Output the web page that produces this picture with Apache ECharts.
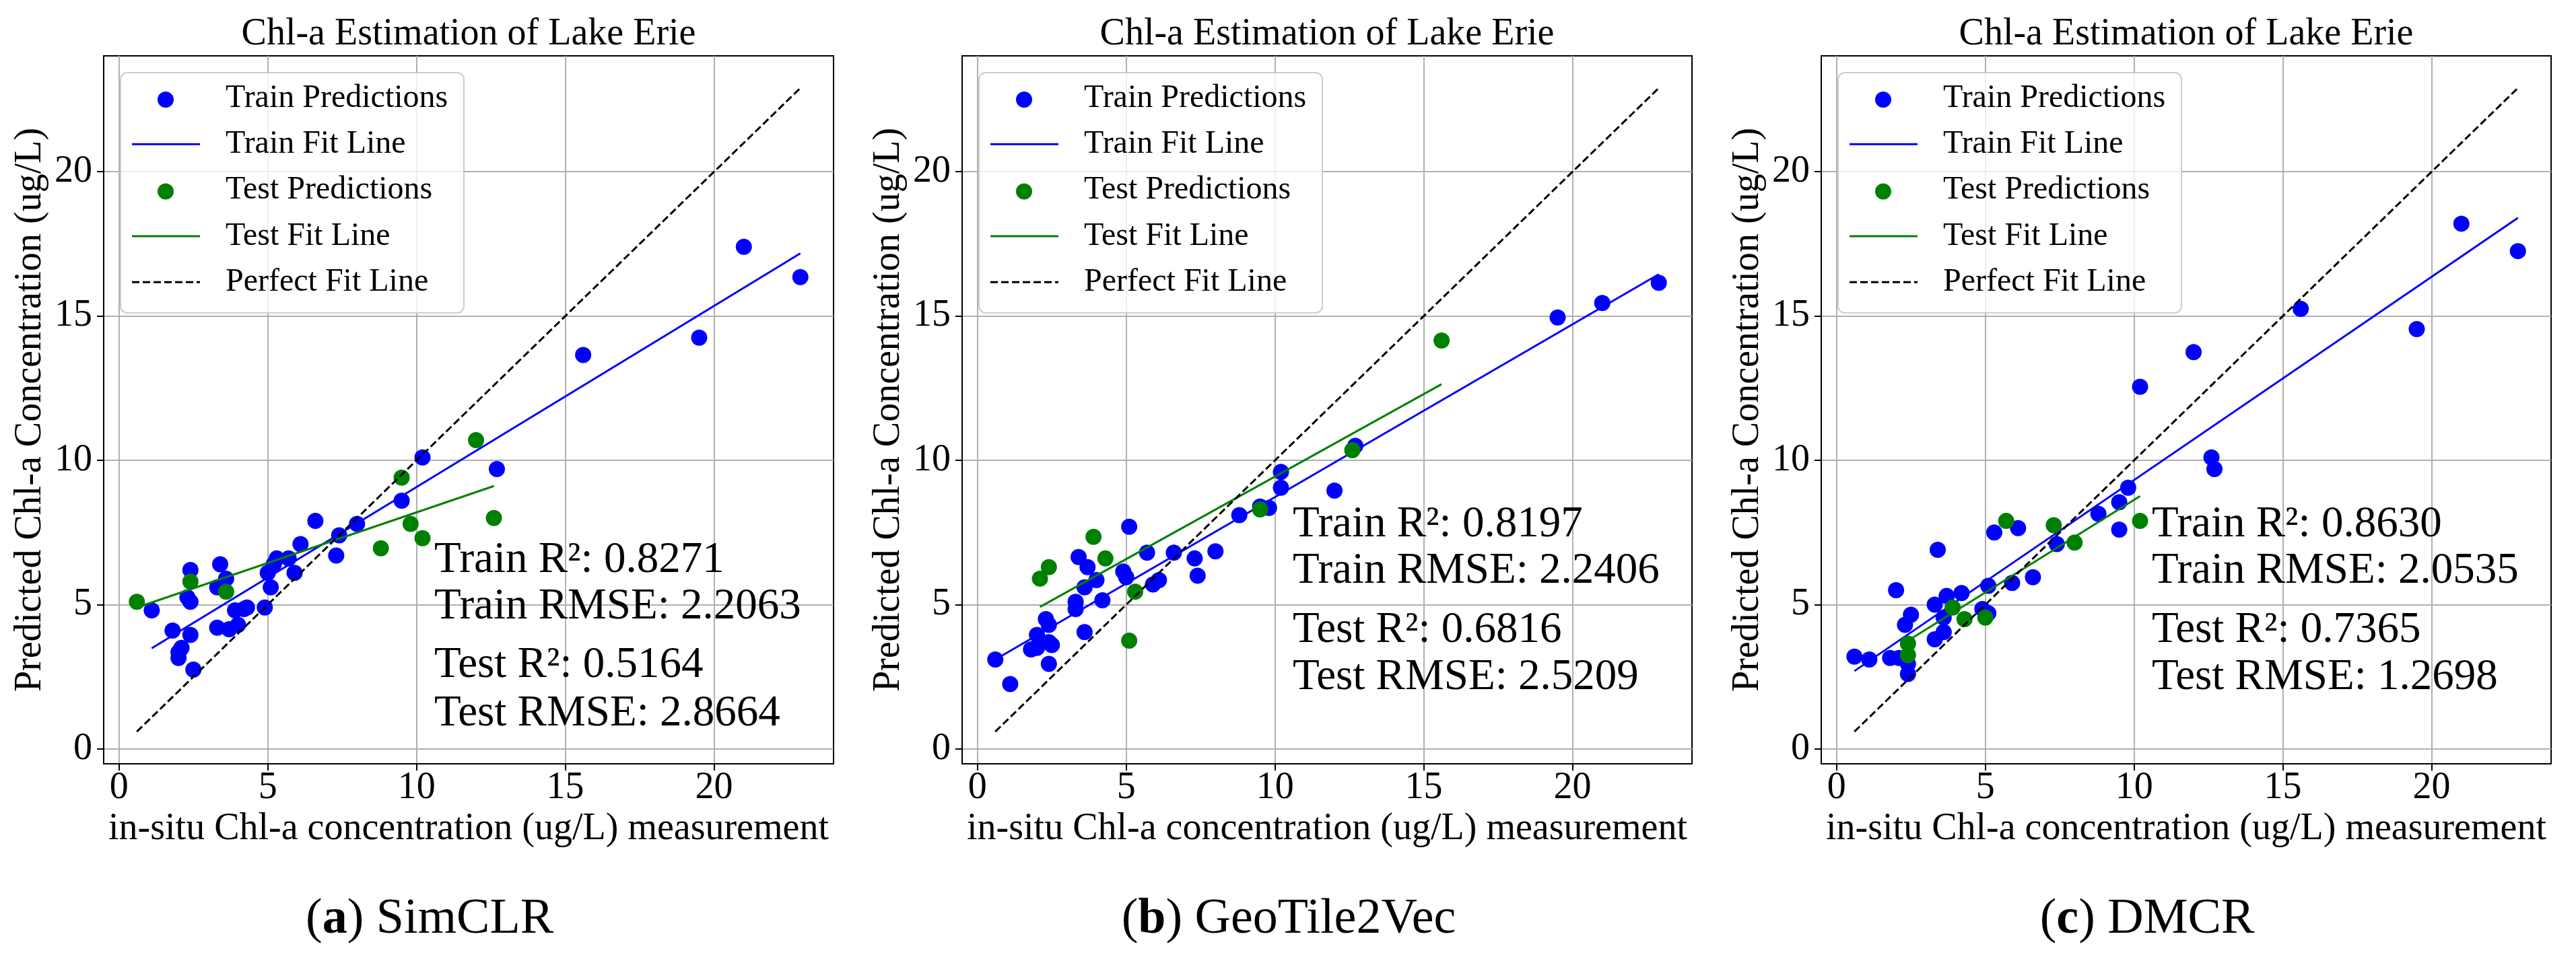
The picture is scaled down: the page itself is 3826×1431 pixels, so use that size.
<!DOCTYPE html>
<html>
<head>
<meta charset="utf-8">
<script src="https://cdn.jsdelivr.net/npm/echarts@6/dist/echarts.min.js"></script>
<style>
  html, body { margin: 0; padding: 0; background: #fff; }
  #main { width: 3826px; height: 1431px; }
</style>
</head>
<body>
<div id="main"></div>
<script>
// values: [in-situ, predicted]
var tickVals = [0, 5, 10, 15, 20]
var panelNames = ['SimCLR', 'GeoTile2Vec', 'DMCR']
var panelTags = ['a', 'b', 'c']

var trainSimCLR = [[1.1,4.8],[1.8,4.1],[2.0,3.35],[2.1,3.5],[2.0,3.15],[2.5,2.75],[2.4,3.95],[2.3,5.25],[2.4,5.1],[2.4,6.2],
  [3.3,5.6],[3.4,6.4],[3.6,5.9],[3.3,4.2],[3.7,4.15],[4.0,4.3],[3.9,4.8],[4.2,4.85],[4.3,4.9],[4.9,4.9],
  [5.0,6.1],[5.1,5.6],[5.2,6.4],[5.3,6.6],[5.7,6.6],[5.9,6.1],[6.1,7.1],[6.6,7.9],[7.3,6.7],[7.4,7.4],
  [8.0,7.8],[9.5,8.6],[10.2,10.1],[12.7,9.7],[15.6,13.65],[19.5,14.25],[21.0,17.4],[22.9,16.35]]
var testSimCLR = [[0.6,5.1],[2.4,5.8],[3.6,5.45],[8.8,6.95],[9.5,9.4],[9.8,7.8],[10.2,7.3],[12.0,10.7],[12.6,8.0]]
var trainFitSimCLR = [[1.1,3.49],[22.9,17.17]]
var testFitSimCLR = [[0.6,4.9],[12.6,9.11]]

var trainGeo = [[0.6,3.1],[1.1,2.25],[1.8,3.45],[2.0,3.95],[2.0,3.5],[2.3,4.5],[2.4,4.3],[2.4,3.7],[2.5,3.6],[2.4,2.95],
  [3.3,5.1],[3.3,4.85],[3.4,6.65],[3.6,5.6],[3.6,4.05],[3.7,6.3],[4.0,5.85],[4.2,5.15],[4.9,6.15],[5.0,5.95],
  [5.1,7.7],[5.7,6.8],[5.9,5.7],[6.1,5.85],[6.6,6.8],[7.3,6.6],[7.4,6.0],[8.0,6.85],[8.8,8.1],[9.5,8.4],
  [9.8,8.35],[10.2,9.6],[10.2,9.05],[12.0,8.95],[12.7,10.5],[19.5,14.95],[21.0,15.45],[22.9,16.15]]
var testGeo = [[2.1,5.9],[2.4,6.3],[3.9,7.35],[4.3,6.6],[5.1,3.75],[5.3,5.45],[9.5,8.3],[12.6,10.35],[15.6,14.15]]
var trainFitGeo = [[0.6,3.1],[22.9,16.45]]
var testFitGeo = [[2.1,4.92],[15.6,12.64]]

var trainDMCR = [[0.6,3.2],[1.1,3.1],[1.8,3.15],[2.1,3.15],[2.0,5.5],[2.3,4.3],[2.5,4.65],[2.4,2.95],[2.4,2.6],[3.3,5.0],
  [3.3,3.8],[3.4,6.9],[3.6,4.55],[3.6,4.05],[3.7,5.3],[4.2,5.4],[4.9,4.85],[5.1,4.7],[5.1,5.65],[5.3,7.5],
  [5.9,5.75],[6.1,7.65],[6.6,5.95],[7.4,7.1],[8.8,8.15],[9.5,8.55],[9.5,7.6],[9.8,9.05],[10.2,12.55],[12.0,13.75],
  [12.6,10.1],[12.7,9.7],[15.6,15.25],[19.5,14.55],[21.0,18.2],[22.9,17.25]]
var testDMCR = [[2.4,3.65],[2.4,3.25],[3.9,4.9],[4.3,4.5],[5.0,4.55],[5.7,7.9],[7.3,7.75],[8.0,7.15],[10.2,7.9]]
var trainFitDMCR = [[0.6,2.7],[22.9,18.4]]
var testFitDMCR = [[2.4,3.75],[10.2,8.76]]

var statsText = [
  ['Train R\u00b2: 0.8271', 'Train RMSE: 2.2063', 'Test R\u00b2: 0.5164', 'Test RMSE: 2.8664'],
  ['Train R\u00b2: 0.8197', 'Train RMSE: 2.2406', 'Test R\u00b2: 0.6816', 'Test RMSE: 2.5209'],
  ['Train R\u00b2: 0.8630', 'Train RMSE: 2.0535', 'Test R\u00b2: 0.7365', 'Test RMSE: 1.2698']
]

var panels = [
  { train: trainSimCLR, test: testSimCLR, trainFit: trainFitSimCLR, testFit: testFitSimCLR },
  { train: trainGeo, test: testGeo, trainFit: trainFitGeo, testFit: testFitGeo },
  { train: trainDMCR, test: testDMCR, trainFit: trainFitDMCR, testFit: testFitDMCR }
]

var FONT = 'Liberation Serif'
var gridLefts = [154, 1429, 2705]
var GRID_TOP = 83, GRID_W = 1084, GRID_H = 1052
var statBaselines = [[855, 924, 1011, 1083], [802, 871, 959, 1029], [802, 871, 959, 1029]]
var subCenters = [638, 1914, 3189]

// perfect fit line spans the measured range (min..max of in-situ values)
function perfectLine(p) {
  var xs = p.train.concat(p.test).map(function (d) { return d[0] })
  var lo = Math.min.apply(null, xs), hi = Math.max.apply(null, xs)
  return [[lo, lo], [hi, hi]]
}

function txt(x, y, text, size, align, extra) {
  return Object.assign({ type: 'text', x: x, y: y, z: 100,
    style: { text: text, fontFamily: FONT, fontSize: size, fill: '#000', align: align, verticalAlign: 'middle' } }, extra || {})
}

var grids = [], xAxes = [], yAxes = [], series = [], graphics = []

panels.forEach(function (p, i) {
  var left = gridLefts[i]
  grids.push({ left: left, top: GRID_TOP, width: GRID_W, height: GRID_H, show: true,
    borderColor: '#000', borderWidth: 2, backgroundColor: 'transparent' })

  var axisCommon = {
    type: 'value', gridIndex: i, min: -0.515, max: 24.015,
    axisLine: { show: true, onZero: false, lineStyle: { color: '#000', width: 2 } },
    axisTick: { show: true, length: 10, lineStyle: { color: '#000', width: 2 }, customValues: tickVals },
    splitLine: { show: true, lineStyle: { color: '#b0b0b0', width: 2 } },
    nameLocation: 'middle',
    nameTextStyle: { fontFamily: FONT, fontSize: 56, color: '#000' }
  }
  xAxes.push(Object.assign({}, axisCommon, {
    position: 'bottom',
    name: 'in-situ Chl-a concentration (ug/L) measurement', nameGap: 67,
    axisLabel: { customValues: tickVals, fontFamily: FONT, fontSize: 56, color: '#000', margin: 8 }
  }))
  yAxes.push(Object.assign({}, axisCommon, {
    position: 'left',
    name: 'Predicted Chl-a Concentration (ug/L)', nameGap: 81, nameRotate: 90,
    axisLabel: { customValues: tickVals, fontFamily: FONT, fontSize: 56, color: '#000', margin: 17 }
  }))

  series.push(
    { type: 'scatter', name: 'Train Predictions', xAxisIndex: i, yAxisIndex: i, data: p.train,
      symbolSize: 24, itemStyle: { color: '#0000ff', opacity: 1 }, z: 2 },
    { type: 'line', name: 'Train Fit Line', xAxisIndex: i, yAxisIndex: i, data: p.trainFit,
      showSymbol: false, lineStyle: { color: '#0000ff', width: 3 }, z: 3 },
    { type: 'scatter', name: 'Test Predictions', xAxisIndex: i, yAxisIndex: i, data: p.test,
      symbolSize: 24, itemStyle: { color: '#008000', opacity: 1 }, z: 4 },
    { type: 'line', name: 'Test Fit Line', xAxisIndex: i, yAxisIndex: i, data: p.testFit,
      showSymbol: false, lineStyle: { color: '#008000', width: 3 }, z: 5 },
    { type: 'line', name: 'Perfect Fit Line', xAxisIndex: i, yAxisIndex: i, data: perfectLine(p),
      showSymbol: false, lineStyle: { color: '#000', width: 3, type: [11, 5] }, z: 6 }
  )

  // title
  graphics.push(txt(left + GRID_W / 2, 51, 'Chl-a Estimation of Lake Erie', 56, 'center'))

  // metrics text
  statsText[i].forEach(function (t, k) {
    graphics.push(txt(left + 491, statBaselines[i][k] - 22, t, 65, 'left'))
  })

  // legend
  var lx = left + 25
  graphics.push({ type: 'rect', z: 90, shape: { x: lx, y: 108, width: 510, height: 357, r: 10 },
    style: { fill: 'rgba(255,255,255,0.8)', stroke: '#cccccc', lineWidth: 2 } })
  var items = [
    { label: 'Train Predictions', kind: 'dot', color: '#0000ff' },
    { label: 'Train Fit Line', kind: 'line', color: '#0000ff' },
    { label: 'Test Predictions', kind: 'dot', color: '#008000' },
    { label: 'Test Fit Line', kind: 'line', color: '#008000' },
    { label: 'Perfect Fit Line', kind: 'dash', color: '#000' }
  ]
  items.forEach(function (it, k) {
    var cy = 148 + 68.3 * k
    if (it.kind === 'dot') {
      graphics.push({ type: 'circle', z: 95, shape: { cx: left + 92, cy: cy, r: 12 }, style: { fill: it.color } })
    } else {
      graphics.push({ type: 'line', z: 95, shape: { x1: left + 42, y1: cy - 2, x2: left + 143, y2: cy - 2 },
        style: { stroke: it.color, lineWidth: 3, lineDash: it.kind === 'dash' ? [11, 5] : null } })
    }
    graphics.push(txt(left + 181, cy - 2, it.label, 48, 'left'))
  })

  // sub caption, tag letter in bold
  var cap = txt(subCenters[i], 1367, '({b|' + panelTags[i] + '}) ' + panelNames[i], 74, 'center')
  cap.style.rich = { b: { fontFamily: FONT, fontSize: 74, fontWeight: 'bold', fill: '#000' } }
  graphics.push(cap)
})

var myChart = echarts.init(document.getElementById('main'))
myChart.setOption({
  animation: false,
  grid: grids,
  xAxis: xAxes,
  yAxis: yAxes,
  series: series,
  graphic: graphics
})
</script>
</body>
</html>
